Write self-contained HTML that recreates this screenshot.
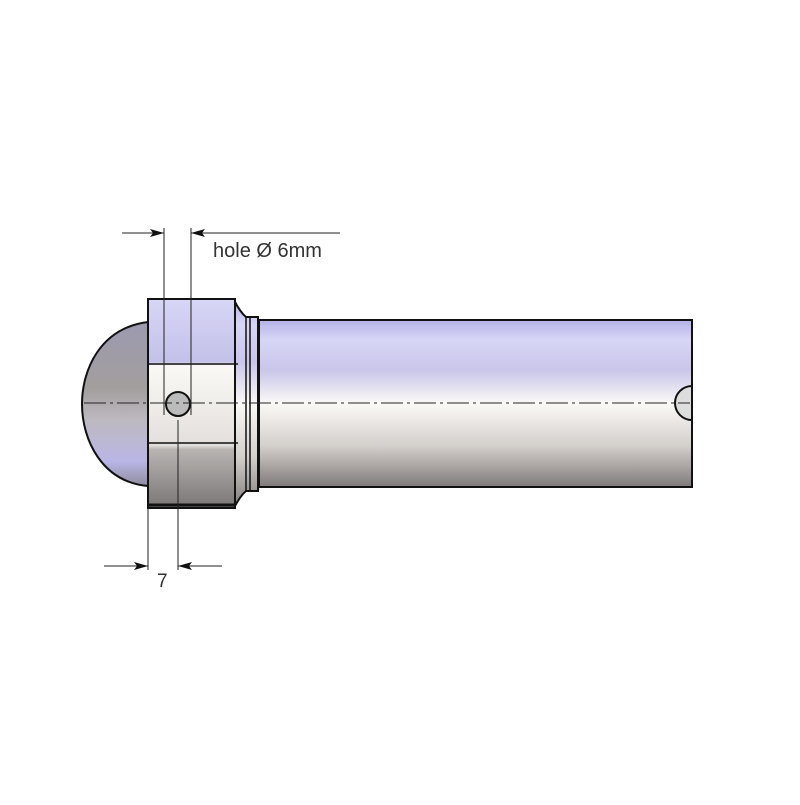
<!DOCTYPE html>
<html><head><style>body{margin:0;background:#fff}</style></head><body>
<svg width="800" height="800" viewBox="0 0 800 800" xmlns="http://www.w3.org/2000/svg">
<defs>
<linearGradient id="g" x1="0" y1="0" x2="0" y2="1">
<stop offset="0" stop-color="#b4b2e6"/>
<stop offset="0.12" stop-color="#d8d6f6"/>
<stop offset="0.3" stop-color="#c9c6ea"/>
<stop offset="0.5" stop-color="#fbf9f6"/>
<stop offset="0.75" stop-color="#d4d0cc"/>
<stop offset="1" stop-color="#807b7b"/>
</linearGradient>
<linearGradient id="d" x1="0" y1="0" x2="0" y2="1">
<stop offset="0" stop-color="#9d9ab0"/>
<stop offset="0.4" stop-color="#a29e9e"/>
<stop offset="0.6" stop-color="#bdb9c0"/>
<stop offset="0.85" stop-color="#b9b6e6"/>
<stop offset="1" stop-color="#8f8c9c"/>
</linearGradient>
<linearGradient id="r" x1="0" y1="0" x2="0" y2="1">
<stop offset="0" stop-color="#d8d6f6"/>
<stop offset="0.3" stop-color="#c4c1e8"/>
<stop offset="0.32" stop-color="#fbf9f6"/>
<stop offset="0.7" stop-color="#e2dfdc"/>
<stop offset="0.72" stop-color="#b8b4b2"/>
<stop offset="1" stop-color="#7a7676"/>
</linearGradient>
</defs>
<g stroke="#111" stroke-width="2">
<rect x="259" y="320" width="433" height="167" fill="url(#g)"/>
<path d="M148 322 C100 328 82 370 82 404 C82 440 102 482 148 486 Z" fill="url(#d)"/>
<path d="M234 300 Q240 312 246 317 L258 317 L258 491 L246 491 Q240 496 234 508 Z" fill="url(#g)"/>
<line x1="246" y1="317" x2="246" y2="491" stroke-width="1.5"/>
<line x1="250" y1="317" x2="250" y2="491" stroke-width="1.5"/>
<rect x="148" y="299" width="87" height="209" fill="url(#r)"/>
<line x1="148" y1="364" x2="238" y2="364" stroke-width="1.5"/>
<line x1="148" y1="443" x2="238" y2="443" stroke-width="1.5"/>
<line x1="148" y1="505" x2="235" y2="505" stroke-width="3"/>
<circle cx="178" cy="404" r="12" fill="#bbb"/>
<path d="M692 386 A17 17 0 0 0 692 420 Z" fill="#ddd"/>
</g>
<line x1="84" y1="403" x2="690" y2="403" stroke="#222" stroke-width="1" stroke-dasharray="22,4,3,4"/>
<g stroke="#222" stroke-width="1" fill="none">
<line x1="164" y1="228" x2="164" y2="415"/>
<line x1="191" y1="228" x2="191" y2="415"/>
<line x1="122" y1="233" x2="164" y2="233"/>
<line x1="191" y1="233" x2="340" y2="233"/>
<line x1="148" y1="508" x2="148" y2="570"/>
<line x1="178" y1="420" x2="178" y2="570"/>
<line x1="104" y1="566" x2="148" y2="566"/>
<line x1="178" y1="566" x2="222" y2="566"/>
</g>
<g fill="#111">
<path d="M164 233 L150 229 L153 233 L150 237 Z"/>
<path d="M191 233 L205 229 L202 233 L205 237 Z"/>
<path d="M148 566 L134 562 L137 566 L134 570 Z"/>
<path d="M178 566 L192 562 L189 566 L192 570 Z"/>
</g>
<text x="213" y="257" font-family="Liberation Sans, sans-serif" font-size="20" fill="#333">hole  Ø 6mm</text>
<text x="157" y="587" font-family="Liberation Sans, sans-serif" font-size="19" fill="#333">7</text>
</svg>
</body></html>
